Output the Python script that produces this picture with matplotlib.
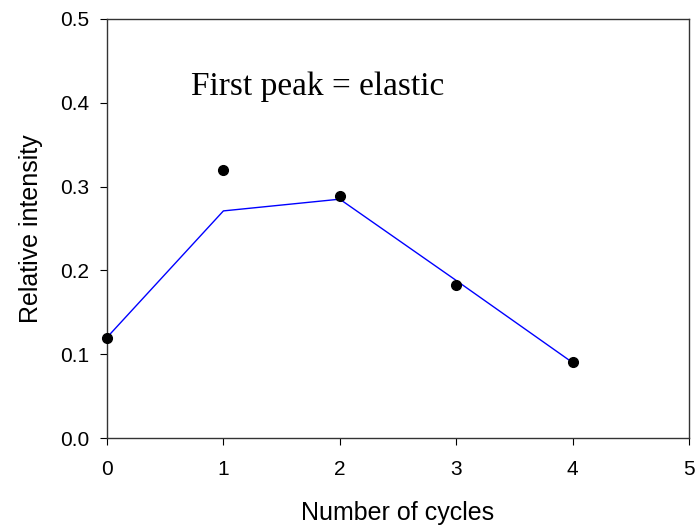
import matplotlib
matplotlib.use("Agg")
import matplotlib.pyplot as plt

plt.rcParams['font.family'] = ['Liberation Sans', 'DejaVu Sans']

cycles = [0, 1, 2, 3, 4]
measured = [0.119, 0.320, 0.289, 0.183, 0.091]
fitted = [0.120, 0.271, 0.285, 0.188, 0.090]

fig = plt.figure(figsize=(7.0, 5.29), dpi=100)
ax = fig.add_axes([107 / 700, 1 - 438 / 529, (689 - 107) / 700, (438 - 19) / 529])

ax.plot(cycles, fitted, color='blue', lw=1.0, zorder=2)
ax.plot(cycles, measured, 'o', color='black', ms=7, zorder=3, clip_on=False)

ax.set_xlim(0, 5)
ax.set_ylim(0, 0.5)
ax.set_xticks(range(6))
ax.set_yticks([0.0, 0.1, 0.2, 0.3, 0.4, 0.5])
ax.set_yticklabels(['0.0', '0.1', '0.2', '0.3', '0.4', '0.5'])
ax.tick_params(direction='out', length=5, labelsize=15, pad=8)
ax.tick_params(axis='x', pad=11)

for s in ax.spines.values():
    s.set_linewidth(1.0)
    s.set_color('#333333')

ax.set_xlabel('Number of cycles', fontsize=18, labelpad=16)
ax.set_ylabel('Relative intensity', fontsize=18, labelpad=12)

ax.text(1.81, 0.409, 'First peak = elastic', family='Liberation Serif',
        fontsize=24, ha='center', va='baseline')

fig.savefig('out.png', dpi=100)
